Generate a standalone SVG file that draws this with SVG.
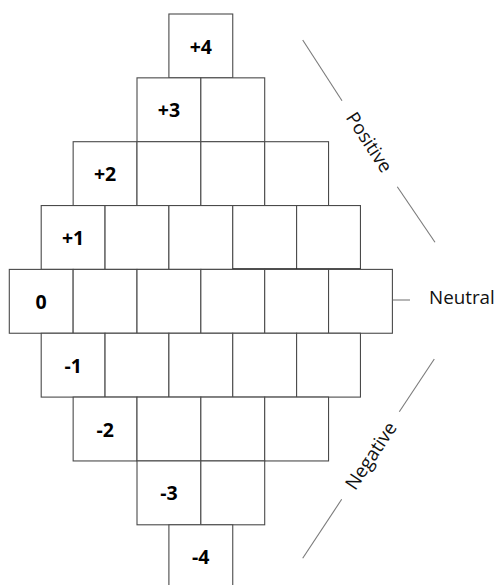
<svg xmlns="http://www.w3.org/2000/svg" width="499" height="585" viewBox="0 0 499 585">
<style>
.box{fill:#fff;stroke:#4a4a4a;stroke-width:1.1}
.lbl{font-family:"Open Sans","Liberation Sans",sans-serif;font-weight:bold;font-size:19.5px;fill:#000;text-anchor:middle}
.side{font-family:"Open Sans","Liberation Sans",sans-serif;font-size:18.8px;fill:#111}
.conn{stroke:#7a7a7a;stroke-width:1.1;fill:none}
</style>
<rect width="499" height="585" fill="#fff"/>
<g id="row-p4">
<rect class="box" x="168.9" y="14" width="63.85" height="63.85"/>
<text class="lbl" x="200.8" y="53.5">+4</text>
</g>
<g id="row-p3">
<rect class="box" x="137" y="77.85" width="63.85" height="63.85"/>
<rect class="box" x="200.85" y="77.85" width="63.85" height="63.85"/>
<text class="lbl" x="168.9" y="117.3">+3</text>
</g>
<g id="row-p2">
<rect class="box" x="73.15" y="141.7" width="63.85" height="63.85"/>
<rect class="box" x="137" y="141.7" width="63.85" height="63.85"/>
<rect class="box" x="200.85" y="141.7" width="63.85" height="63.85"/>
<rect class="box" x="264.7" y="141.7" width="63.85" height="63.85"/>
<text class="lbl" x="105.1" y="181.2">+2</text>
</g>
<g id="row-p1">
<rect class="box" x="41.2" y="205.55" width="63.85" height="63.85"/>
<rect class="box" x="105.05" y="205.55" width="63.85" height="63.85"/>
<rect class="box" x="168.9" y="205.55" width="63.85" height="63.85"/>
<rect class="box" x="232.75" y="205.55" width="63.85" height="63.85"/>
<rect class="box" x="296.6" y="205.55" width="63.85" height="63.85"/>
<line x1="232.75" y1="268.9" x2="360.45" y2="268.9" stroke="#222" stroke-width="1.4"/>
<text class="lbl" x="73.1" y="245">+1</text>
</g>
<g id="row-0">
<rect class="box" x="9.3" y="269.4" width="63.85" height="63.85"/>
<rect class="box" x="73.15" y="269.4" width="63.85" height="63.85"/>
<rect class="box" x="137" y="269.4" width="63.85" height="63.85"/>
<rect class="box" x="200.85" y="269.4" width="63.85" height="63.85"/>
<rect class="box" x="264.7" y="269.4" width="63.85" height="63.85"/>
<rect class="box" x="328.55" y="269.4" width="63.85" height="63.85"/>
<text class="lbl" x="41.2" y="308.6">0</text>
</g>
<g id="row-m1">
<rect class="box" x="41.2" y="333.25" width="63.85" height="63.85"/>
<rect class="box" x="105.05" y="333.25" width="63.85" height="63.85"/>
<rect class="box" x="168.9" y="333.25" width="63.85" height="63.85"/>
<rect class="box" x="232.75" y="333.25" width="63.85" height="63.85"/>
<rect class="box" x="296.6" y="333.25" width="63.85" height="63.85"/>
<text class="lbl" x="73.1" y="372.7">-1</text>
</g>
<g id="row-m2">
<rect class="box" x="73.15" y="397.1" width="63.85" height="63.85"/>
<rect class="box" x="137" y="397.1" width="63.85" height="63.85"/>
<rect class="box" x="200.85" y="397.1" width="63.85" height="63.85"/>
<rect class="box" x="264.7" y="397.1" width="63.85" height="63.85"/>
<text class="lbl" x="105.1" y="436.6">-2</text>
</g>
<g id="row-m3">
<rect class="box" x="137" y="460.95" width="63.85" height="63.85"/>
<rect class="box" x="200.85" y="460.95" width="63.85" height="63.85"/>
<text class="lbl" x="168.9" y="500.4">-3</text>
</g>
<g id="row-m4">
<rect class="box" x="168.9" y="524.8" width="63.85" height="63.85"/>
<text class="lbl" x="200.8" y="564.3">-4</text>
</g>
<g id="connectors">
<line class="conn" x1="302.7" y1="40" x2="342" y2="100.7"/>
<line class="conn" x1="397.3" y1="186.7" x2="435" y2="242.3"/>
<line class="conn" x1="392.7" y1="300" x2="410" y2="300"/>
<line class="conn" x1="434.3" y1="359" x2="399.3" y2="411.7"/>
<line class="conn" x1="341.7" y1="499.3" x2="302.7" y2="558.3"/>
</g>
<g id="label-positive">
<text class="side" text-anchor="middle" dominant-baseline="central" transform="translate(369.7,142) rotate(56.8)">Positive</text>
</g>
<g id="label-neutral">
<text class="side" x="429" y="304.3">Neutral</text>
</g>
<g id="label-negative">
<text class="side" text-anchor="middle" dominant-baseline="central" transform="translate(370.5,455.5) rotate(-56.6)">Negative</text>
</g>
</svg>
